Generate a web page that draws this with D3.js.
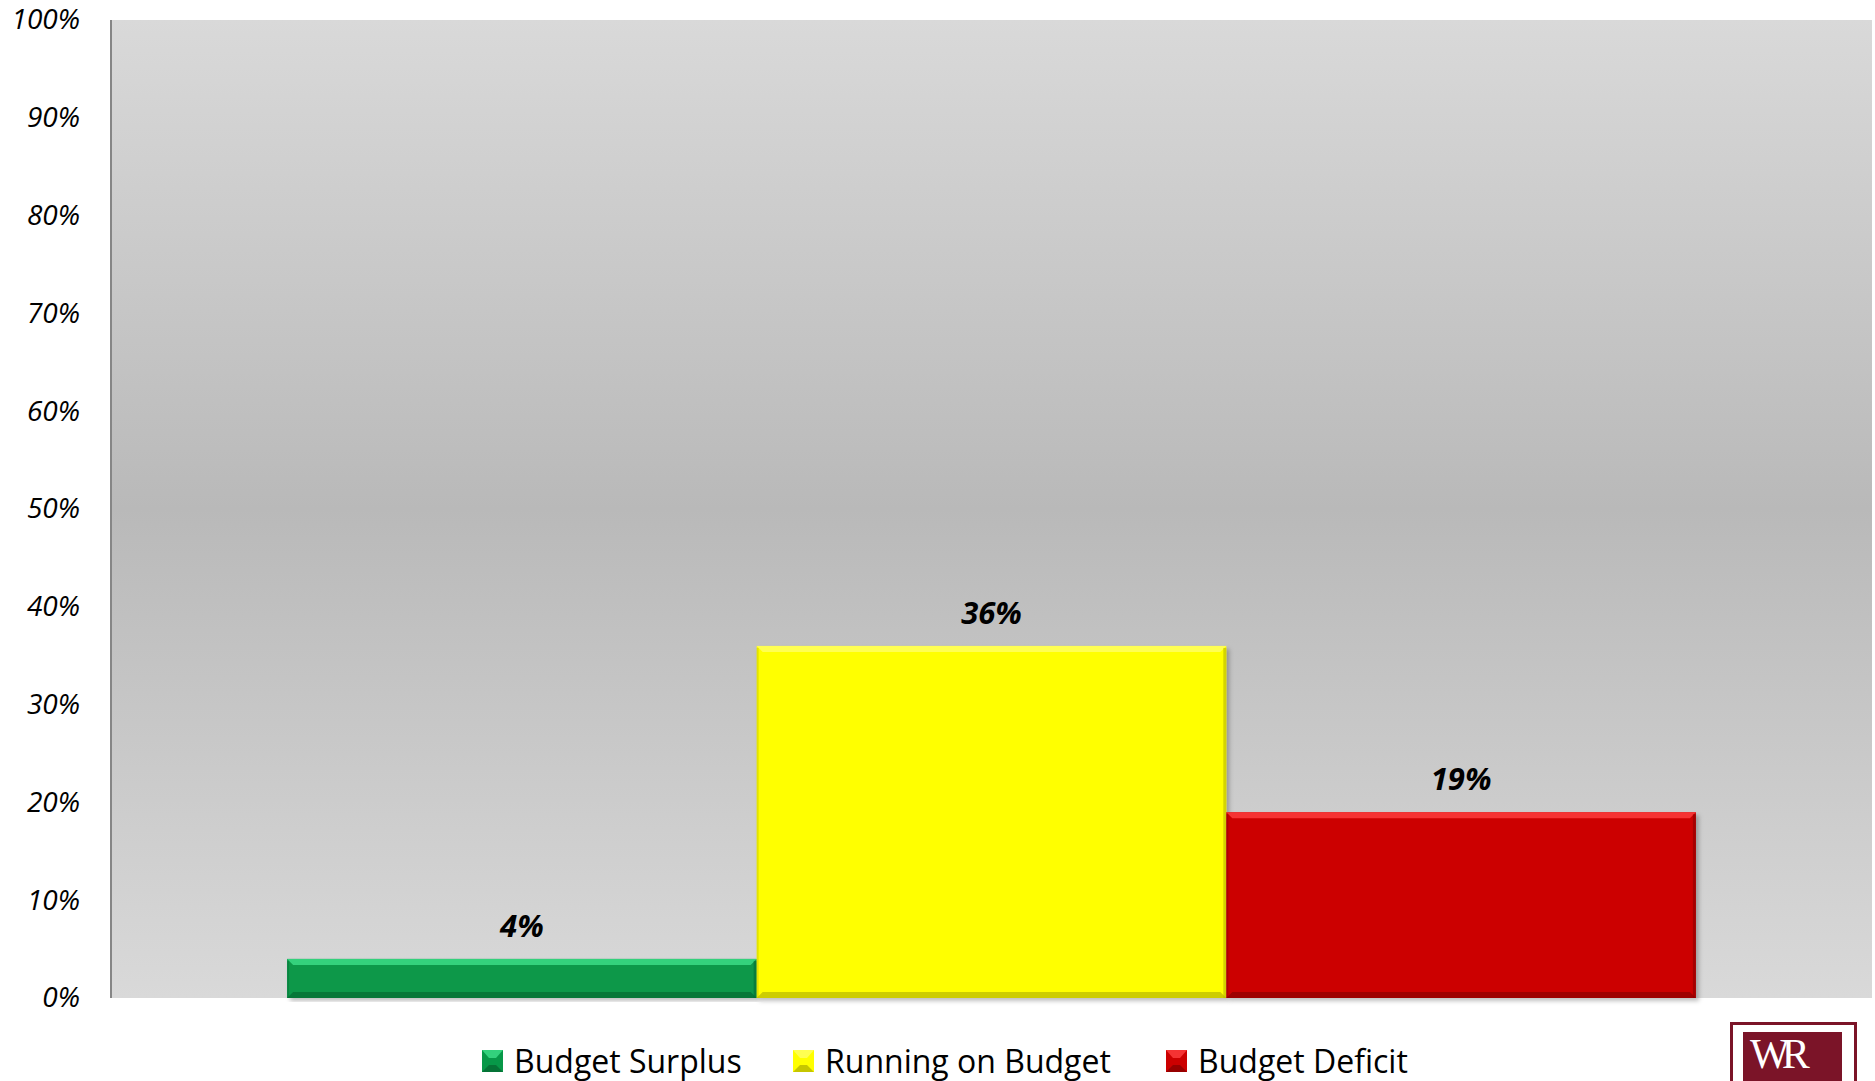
<!DOCTYPE html>
<html>
<head>
<meta charset="utf-8">
<script src="https://cdn.jsdelivr.net/npm/d3@7"></script>
<style>
  html, body { margin: 0; padding: 0; background: #fff; }
  svg { display: block; }
</style>
</head>
<body>
<svg id="chart"></svg>
<script>
// chart data
var categories = ['All'];
var seriesNames = ['Budget Surplus', 'Running on Budget', 'Budget Deficit'];
var seriesValues = [0.04, 0.36, 0.19];
var yTicks = [0, 0.1, 0.2, 0.3, 0.4, 0.5, 0.6, 0.7, 0.8, 0.9, 1.0];

var colors = {
  'Budget Surplus':    {base: '#079848', hi: '#3fe08a', lo: '#056a32'},
  'Running on Budget': {base: '#ffff00', hi: '#ffff66', lo: '#b8b800'},
  'Budget Deficit':    {base: '#cc0000', hi: '#ff4040', lo: '#8a0000'}
};

var W = 1875, H = 1081;
var margin = {top: 20, right: 3, bottom: 83, left: 111};
var plotW = W - margin.left - margin.right;
var plotH = H - margin.top - margin.bottom;

var svg = d3.select('#chart').attr('width', W).attr('height', H);
var defs = svg.append('defs');

// background gradient of the plot area
var bg = defs.append('linearGradient').attr('id', 'bg')
    .attr('x1', 0).attr('y1', 0).attr('x2', 0).attr('y2', 1);
bg.append('stop').attr('offset', '0%').attr('stop-color', '#d9d9d9');
bg.append('stop').attr('offset', '50%').attr('stop-color', '#b9b9b9');
bg.append('stop').attr('offset', '100%').attr('stop-color', '#d9d9d9');

var shadow = defs.append('filter').attr('id', 'shadow')
    .attr('x', '-5%').attr('y', '-5%').attr('width', '115%').attr('height', '115%');
shadow.append('feDropShadow').attr('dx', 3).attr('dy', 3).attr('stdDeviation', 2)
    .attr('flood-color', '#000').attr('flood-opacity', 0.25);

var g = svg.append('g').attr('transform', 'translate(' + margin.left + ',' + margin.top + ')');

g.append('rect')
    .attr('width', plotW).attr('height', plotH)
    .attr('fill', 'url(#bg)');

var x0 = d3.scaleBand().domain(categories).range([0, plotW]).paddingInner(0).paddingOuter(0.125);
var x1 = d3.scaleBand().domain(seriesNames).range([0, x0.bandwidth()]).padding(0);
var y = d3.scaleLinear().domain([0, 1]).range([plotH, 0]);

// y axis
var yAxis = g.append('g')
    .call(d3.axisLeft(y).tickValues(yTicks).tickFormat(d3.format('.0%')).tickSize(0).tickPadding(31));
yAxis.select('.domain').remove();
yAxis.selectAll('text')
    .attr('font-family', '"Open Sans", sans-serif')
    .attr('font-style', 'italic')
    .attr('font-size', 28)
    .attr('fill', '#000');

g.append('line')
    .attr('x1', 0).attr('x2', 0).attr('y1', 0).attr('y2', plotH)
    .attr('stroke', '#868686').attr('stroke-width', 2);

// bars
var rows = seriesNames.map(function(s, i) { return {name: s, value: seriesValues[i]}; });
var bevel = 6;

var bars = g.selectAll('g.bar')
    .data(rows)
  .enter().append('g')
    .attr('class', 'bar')
    .attr('transform', function(d) { return 'translate(' + (x0(categories[0]) + x1(d.name)) + ',0)'; });

bars.append('rect')
    .attr('x', 0)
    .attr('y', function(d) { return y(d.value); })
    .attr('width', x1.bandwidth())
    .attr('height', function(d) { return y(0) - y(d.value); })
    .attr('fill', function(d) { return colors[d.name].base; })
    .attr('filter', 'url(#shadow)');

// top highlight bevel
bars.append('path')
    .attr('d', function(d) {
      var w = x1.bandwidth(), t = y(d.value);
      return 'M0,' + t + 'L' + w + ',' + t + 'L' + (w - bevel) + ',' + (t + bevel) + 'L' + bevel + ',' + (t + bevel) + 'Z';
    })
    .attr('fill', function(d) { return colors[d.name].hi; })
    .attr('opacity', 0.8);

// bottom shadow bevel
bars.append('path')
    .attr('d', function(d) {
      var w = x1.bandwidth(), b = y(0);
      return 'M0,' + b + 'L' + w + ',' + b + 'L' + (w - bevel) + ',' + (b - bevel) + 'L' + bevel + ',' + (b - bevel) + 'Z';
    })
    .attr('fill', function(d) { return colors[d.name].lo; })
    .attr('opacity', 0.7);

// side edges
bars.append('rect')
    .attr('x', function() { return x1.bandwidth() - 3; })
    .attr('y', function(d) { return y(d.value) + 2; })
    .attr('width', 3)
    .attr('height', function(d) { return y(0) - y(d.value) - 2; })
    .attr('fill', function(d) { return colors[d.name].lo; })
    .attr('opacity', 0.6);
bars.append('rect')
    .attr('x', 0)
    .attr('y', function(d) { return y(d.value) + 2; })
    .attr('width', 2)
    .attr('height', function(d) { return y(0) - y(d.value) - 2; })
    .attr('fill', function(d) { return colors[d.name].lo; })
    .attr('opacity', 0.4);

// value labels
bars.append('text')
    .attr('x', function() { return x1.bandwidth() / 2; })
    .attr('y', function(d) { return y(d.value) - 22; })
    .attr('text-anchor', 'middle')
    .attr('font-family', '"Open Sans", sans-serif')
    .attr('font-weight', 'bold')
    .attr('font-style', 'italic')
    .attr('font-size', 31)
    .attr('fill', '#000')
    .text(function(d) { return d3.format('.0%')(d.value); });

// legend
var legendX = [482, 793, 1166];
var legend = svg.selectAll('g.legend')
    .data(rows)
  .enter().append('g')
    .attr('class', 'legend')
    .attr('transform', function(d, i) { return 'translate(' + legendX[i] + ',1050)'; });

legend.append('rect')
    .attr('width', 21).attr('height', 22)
    .attr('fill', function(d) { return colors[d.name].base; });
legend.append('path')
    .attr('d', 'M0,0L21,0L14,8L7,8Z')
    .attr('fill', function(d) { return colors[d.name].hi; })
    .attr('opacity', 0.8);
legend.append('path')
    .attr('d', 'M0,22L21,22L14,15L7,15Z')
    .attr('fill', function(d) { return colors[d.name].lo; })
    .attr('opacity', 0.8);
legend.append('text')
    .attr('x', 32)
    .attr('y', 11)
    .attr('dy', '0.36em')
    .attr('font-family', '"Open Sans", sans-serif')
    .attr('font-size', 32)
    .attr('fill', '#000')
    .text(function(d) { return d.name; });

// logo in the bottom right corner
var logo = svg.append('g').attr('transform', 'translate(1730,1022)');
logo.append('rect').attr('x', 1.5).attr('y', 1.5).attr('width', 124).attr('height', 80)
    .attr('fill', '#fff').attr('stroke', '#7b1428').attr('stroke-width', 3);
logo.append('rect').attr('x', 13).attr('y', 10).attr('width', 99).attr('height', 70)
    .attr('fill', '#7b1428');
logo.append('text')
    .attr('x', 20).attr('y', 46)
    .attr('font-family', '"Liberation Serif", serif')
    .attr('font-size', 42)
    .attr('fill', '#fff')
    .attr('letter-spacing', -8)
    .text('WR');
</script>
</body>
</html>
